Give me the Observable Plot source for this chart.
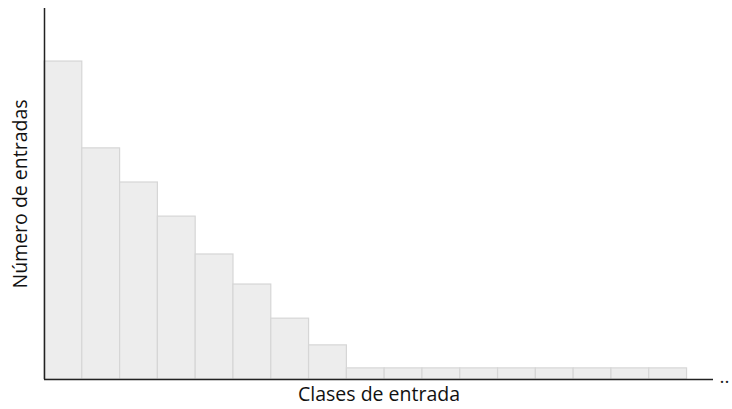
<!DOCTYPE html>
<html>
<head>
<meta charset="utf-8">
<script src="https://cdn.jsdelivr.net/npm/d3@7"></script>
<script src="https://cdn.jsdelivr.net/npm/@observablehq/plot@0.6"></script>
<style>
  html, body { margin: 0; padding: 0; background: #fff; }
  #chart svg { display: block; }
</style>
</head>
<body>
<div id="chart"></div>
<script>
const classes = [1, 2, 3, 4, 5, 6, 7, 8, 9, 10, 11, 12, 13, 14, 15, 16, 17];
const counts = [85.7, 62.3, 53.1, 43.9, 33.7, 25.6, 16.4, 9.2, 3.0, 3.0, 3.0, 3.0, 3.0, 3.0, 3.0, 3.0, 3.0];
const xLabel = "Clases de entrada";
const yLabel = "Número de entradas";

const data = classes.map((c, i) => ({x1: c - 1, x2: c, y: counts[i]}));
const xMax = 17.7;

const chart = Plot.plot({
  width: 732,
  height: 409,
  marginLeft: 44,
  marginRight: 19,
  marginTop: 8,
  marginBottom: 30,
  style: {fontFamily: "'Open Sans', sans-serif", background: "#fff"},
  x: {domain: [0, xMax], axis: null},
  y: {domain: [0, 100], axis: null},
  marks: [
    Plot.rectY(data, {x1: "x1", x2: "x2", y: "y", fill: "#ededed", stroke: "#d6d6d6", strokeWidth: 1.2}),
    Plot.ruleY([0], {stroke: "#222", strokeWidth: 1.5}),
    Plot.ruleX([0], {stroke: "#222", strokeWidth: 1.5}),
    Plot.text([".."], {x: xMax, y: 0, dx: 11, dy: -3, fontSize: 19, fill: "#222", textAnchor: "middle"}),
    Plot.text([xLabel], {frameAnchor: "bottom", dy: 21, fontSize: 19.5, fill: "#111", textAnchor: "middle"}),
    Plot.text([yLabel], {frameAnchor: "left", dx: -24, rotate: -90, fontSize: 19.5, fill: "#111", textAnchor: "middle"})
  ]
});
document.getElementById("chart").appendChild(chart);
</script>
</body>
</html>
